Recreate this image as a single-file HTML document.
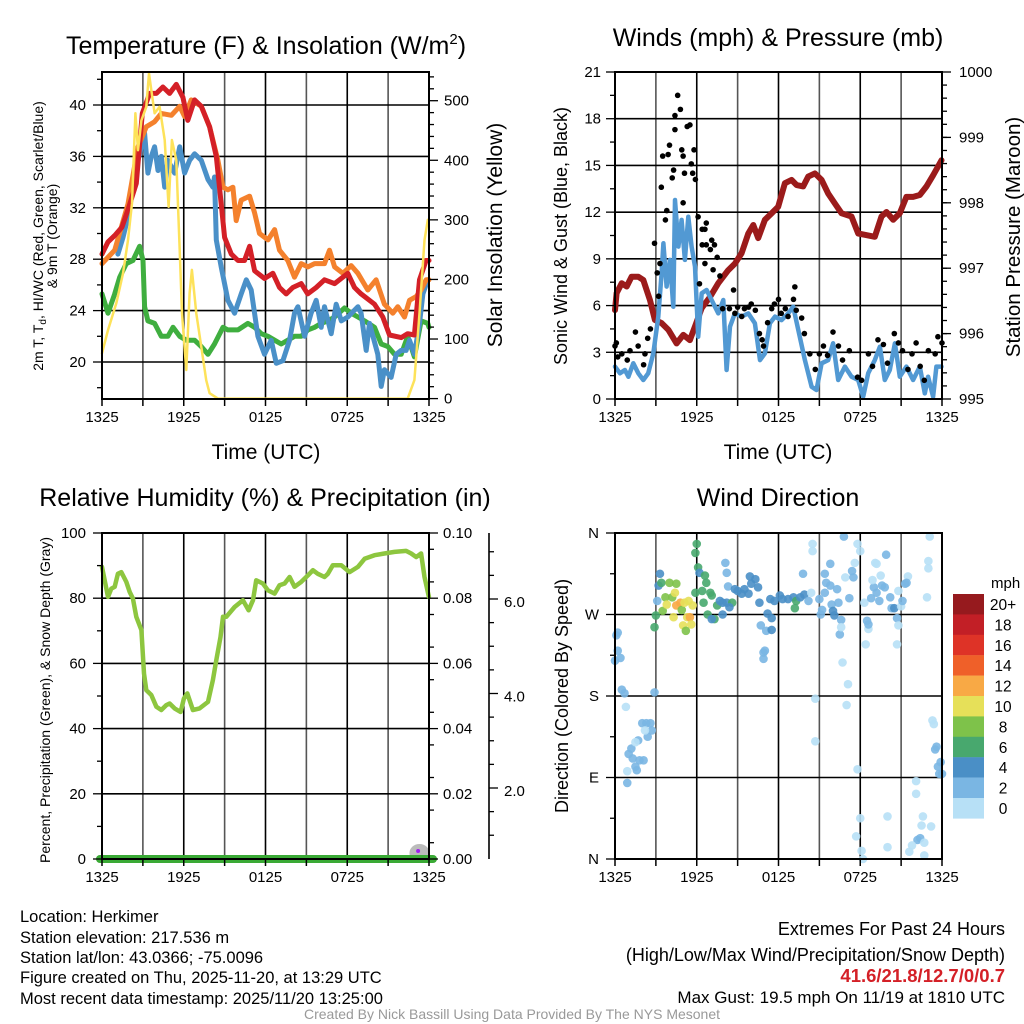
<!DOCTYPE html>
<html><head><meta charset="utf-8">
<style>
body{margin:0;background:#fff;font-family:"Liberation Sans",sans-serif;}
svg{display:block}
text{font-family:"Liberation Sans",sans-serif;fill:#000}
</style></head>
<body>
<svg id="s" width="1024" height="1024" viewBox="0 0 1024 1024">
<g id="grid"></g>
<g id="marks"></g>
<g id="frames"></g>
<!-- titles -->
<text x="266" y="54" font-size="25" text-anchor="middle">Temperature (F) &amp; Insolation (W/m<tspan dy="-10" font-size="15">2</tspan><tspan dy="10">)</tspan></text>
<text x="778" y="46" font-size="25" text-anchor="middle">Winds (mph) &amp; Pressure (mb)</text>
<text x="265" y="506" font-size="25" text-anchor="middle">Relative Humidity (%) &amp; Precipitation (in)</text>
<text x="778" y="506" font-size="25" text-anchor="middle">Wind Direction</text>
<text x="266" y="459" font-size="21" text-anchor="middle">Time (UTC)</text>
<text x="778" y="459" font-size="21" text-anchor="middle">Time (UTC)</text>
<text transform="translate(43,236) rotate(-90)" font-size="14" text-anchor="middle">2m T, T<tspan dy="3" font-size="10">d</tspan><tspan dy="-3">, HI/WC (Red, Green, Scarlet/Blue)</tspan></text>
<text transform="translate(57,236) rotate(-90)" font-size="14" text-anchor="middle">&amp; 9m T (Orange)</text>
<text transform="translate(502,235) rotate(-90)" font-size="21" text-anchor="middle">Solar Insolation (Yellow)</text>
<text transform="translate(567,236) rotate(-90)" font-size="18" text-anchor="middle">Sonic Wind &amp; Gust (Blue, Black)</text>
<text transform="translate(1020,237) rotate(-90)" font-size="20.5" text-anchor="middle">Station Pressure (Maroon)</text>
<text transform="translate(50,700) rotate(-90)" font-size="14" text-anchor="middle">Percent, Precipitation (Green), &amp; Snow Depth (Gray)</text>
<text transform="translate(568,696) rotate(-90)" font-size="18" text-anchor="middle">Direction (Colored By Speed)</text>
<!-- info -->
<g font-size="16.5">
<text x="20" y="922">Location: Herkimer</text>
<text x="20" y="943">Station elevation: 217.536 m</text>
<text x="20" y="963">Station lat/lon: 43.0366; -75.0096</text>
<text x="20" y="983">Figure created on Thu, 2025-11-20, at 13:29 UTC</text>
<text x="20" y="1004">Most recent data timestamp: 2025/11/20 13:25:00</text>
</g>
<g font-size="18" text-anchor="end">
<text x="1005" y="935">Extremes For Past 24 Hours</text>
<text x="1005" y="961">(High/Low/Max Wind/Precipitation/Snow Depth)</text>
<text x="1005" y="982" font-weight="bold" font-size="18.5" style="fill:#d42027">41.6/21.8/12.7/0/0.7</text>
<text x="1005" y="1003" font-size="17">Max Gust: 19.5 mph On 11/19 at 1810 UTC</text>
</g>
<text x="512" y="1019" font-size="14" text-anchor="middle" style="fill:#999">Created By Nick Bassill Using Data Provided By The NYS Mesonet</text>
<g id="cbar"></g>
</svg>
<script>
// ---------- data ----------
const xTickLabels=["1325","1925","0125","0725","1325"];
const tempHours=[0,0.44,0.98,1.47,1.98,2.52,2.96,3.5,3.99,4.47,4.96,5.45,5.94,6.3,6.8,7.29,7.9,8.39,8.75,9.0,9.49,9.98,10.46,10.83,11.2,11.93,12.54,13.03,13.52,14.0,14.62,15.1,15.72,16.33,17.07,18.04,18.53,19.02,20.0,20.61,21.1,21.96,22.44,22.93,23.3,23.79,24];
const tempValues=[28.4,29.35,29.9,30.5,32.1,33.9,39.35,40.9,40.9,41.4,40.9,41.6,40.6,38.8,40.4,39.9,38.3,36.0,32.3,29.7,28.4,27.9,27.9,29.0,27.1,26.5,26.9,25.8,25.3,25.8,26.1,25.3,25.8,26.4,26.1,26.9,25.8,25.3,24.5,23.5,22.1,21.9,22.2,22.1,26.4,27.9,27.9];
const t9Hours=[0,0.93,1.91,2.64,3.25,3.86,4.35,5.09,5.7,6.06,6.55,7.29,7.9,8.51,8.88,9.24,9.61,9.85,10.22,10.83,11.2,11.56,12.18,12.67,13.03,13.64,14.13,14.62,15.11,15.6,16.33,16.7,17.07,17.68,18.29,18.78,19.51,20.12,20.73,21.34,21.71,22.2,22.57,23.06,23.42,23.79,24];
const t9Values=[27.66,28.7,32.3,36.75,38.3,38.7,39.35,39.2,39.9,39.1,40.4,39.9,38.3,35.7,33.6,33.4,33.6,31.0,32.6,32.9,31.6,30.0,29.5,30.3,28.7,27.9,26.6,27.66,27.4,27.66,27.66,28.7,27.4,26.9,27.5,26.9,25.6,26.4,24.5,23.8,24.3,23.5,24.8,25.1,25.6,26.4,26.4];
const hiHours=[1.17,1.54,1.91,2.64,3.01,3.13,3.37,3.62,3.86,4.11,4.35,4.6,4.84,5.33,5.7,6.06,6.43,6.8,7.29,7.78,8.14,8.26,8.39,8.75,9.24,9.73,10.22,10.59,10.95,11.44,11.93,12.42,12.79,13.28,13.77,14.13,14.38,14.87,15.35,15.72,16.09,16.33,16.82,17.19,17.56,18.04,18.78,19.02,19.39,19.63,20.24,20.49,20.73,21.22,21.59,21.96,22.32,22.57,22.93,23.3,23.55,23.91];
const hiValues=[28.4,29.7,31.3,35.7,37.3,37.8,34.7,36.0,36.75,34.9,36.0,33.6,35.7,34.7,36.75,34.7,35.7,36.2,35.7,34.2,33.6,34.4,29.5,27.4,24.8,23.8,25.3,26.4,25.6,22.0,20.6,21.7,19.9,20.1,21.7,23.8,24.3,22.0,23.8,24.8,22.7,24.3,22.2,24.5,23.2,23.5,24.3,23.8,20.9,23.0,20.6,18.1,19.4,18.8,20.6,20.9,20.9,21.7,20.6,23.0,25.3,26.4];
const tdHours=[0,0.44,0.93,1.3,1.78,2.27,2.76,3.01,3.13,3.37,3.86,4.35,4.84,5.21,5.7,6.19,6.8,7.29,7.78,8.26,8.88,9.24,9.98,10.71,11.2,11.69,12.18,12.67,13.15,13.64,14.13,14.62,15.11,15.6,16.09,16.58,17.07,17.8,18.29,18.78,19.27,20.0,20.49,20.98,21.47,21.96,22.44,22.93,23.42,23.91,24];
const tdValues=[25.3,23.8,25.3,26.6,27.66,27.9,29.0,27.9,24.3,23.2,23.0,22.0,22.0,22.7,22.0,21.7,21.7,21.2,20.6,21.4,22.7,22.5,22.5,23.0,22.7,22.2,22.0,21.7,21.4,21.7,22.0,22.0,22.5,22.7,23.0,23.2,23.5,24.2,23.8,23.5,23.2,22.7,21.4,21.2,20.6,20.6,22.0,20.4,23.2,23.0,22.7];
const solarHours=[0,0.44,1.05,1.54,1.91,2.2,2.45,2.64,2.89,3.25,3.45,3.62,3.86,4.23,4.6,4.89,5.13,5.45,5.7,5.87,6.19,6.43,6.6,6.92,7.29,7.65,7.9,8.51,22.44,22.93,23.3,23.67,23.91];
const solarValues=[76,115,160,210,266,328,479,417,467,490,546,518,479,490,434,322,434,400,249,143,48,177,216,143,87,31,9,0,0,31,143,266,300];
const presHours=[0,0.12,0.49,0.86,1.22,1.71,2.08,2.57,2.93,3.42,3.91,4.52,5.01,5.5,5.87,6.36,6.97,7.58,8.31,8.8,9.29,9.78,10.15,10.51,11.0,11.49,11.98,12.47,12.96,13.33,13.81,14.18,14.67,15.16,15.65,16.14,16.63,17.36,17.85,18.34,19.07,19.56,19.93,20.42,20.9,21.39,21.88,22.37,22.86,23.35,23.96];
const presValues=[996.36,996.62,996.77,996.72,996.87,996.87,996.82,996.51,996.21,996.16,996.06,995.85,995.98,995.9,996.11,996.39,996.56,996.77,996.97,997.07,997.23,997.53,997.66,997.46,997.74,997.84,997.94,998.3,998.35,998.27,998.25,998.4,998.45,998.35,998.14,997.99,997.84,997.79,997.53,997.51,997.48,997.79,997.86,997.74,997.84,998.09,998.09,998.12,998.25,998.42,998.65];
const windHours=[0,.37,.73,.98,1.34,1.71,2.08,2.44,2.81,3.18,3.42,3.55,3.79,4.03,4.28,4.4,4.65,4.89,5.13,5.38,5.62,5.87,6.11,6.36,6.72,7.09,7.58,7.95,8.19,8.44,8.8,9.29,9.78,10.27,10.64,11.0,11.37,11.74,12.22,12.71,13.08,13.45,13.94,14.43,14.79,15.16,15.65,16.01,16.38,16.87,17.36,17.85,18.22,18.58,19.07,19.44,19.8,20.17,20.54,20.9,21.39,21.88,22.37,22.74,22.98,23.35,23.59,23.96];
const windValues=[2.08,1.65,1.86,1.43,2.29,1.65,1.22,1.65,2.93,5.29,8.07,10.0,7.22,8.93,5.93,12.78,9.79,11.5,8.93,11.71,9.79,8.5,4.0,6.79,7.0,6.36,5.5,6.36,1.86,4.65,5.5,5.29,5.5,4.86,2.5,2.93,4.86,5.29,5.07,5.5,5.93,4.43,2.5,0.79,0.58,2.29,2.5,3.58,1.22,2.08,1.43,1.22,0.15,1.65,2.5,3.36,1.22,1.86,3.58,1.43,2.08,1.22,2.08,0.36,1.43,0.15,2.08,2.08];
const gustHours=[0,.1,.2,.5,.9,1.1,1.5,1.7,2.1,2.2,2.4,2.6,2.9,3.1,3.2,3.3,3.4,3.5,3.7,3.8,3.9,4.0,4.2,4.3,4.4,4.4,4.6,4.8,4.9,5.0,5.0,5.1,5.3,5.5,5.6,5.7,5.8,5.9,6.1,6.2,6.4,6.6,6.7,6.4,6.7,7.0,7.1,7.3,7.5,6.6,7.2,7.7,8.7,7.9,8.4,8.8,9.0,9.3,9.5,9.8,10.0,10.3,10.6,10.8,10.9,11.2,11.5,11.7,12.0,12.2,12.5,12.7,13.1,13.2,13.3,13.7,13.9,14.3,14.7,15.0,15.3,15.6,16.0,16.4,16.7,17.2,17.8,18.1,18.6,18.9,19.3,19.7,20.0,20.5,20.8,21.1,21.5,21.8,22.1,22.4,22.7,23.0,23.5,23.7,24.0];
const gustValues=[3.4,3.6,2.7,2.9,2.5,3.1,4.3,3.4,2.2,2.9,3.9,4.5,10.0,8.1,6.6,8.7,13.6,15.6,11.5,12.1,15.7,16.3,14.2,14.7,17.3,18.2,19.5,18.6,16.0,12.6,15.6,14.5,17.5,17.6,15.1,14.5,16.0,14.1,11.7,7.4,10.9,10.9,11.3,9.9,9.9,9.6,10.2,9.9,9.1,8.7,8.3,7.9,7.0,5.8,5.8,5.5,5.9,5.3,5.8,5.9,6.1,5.7,4.2,3.8,3.4,4.9,5.8,6.1,6.4,5.5,5.8,5.3,6.4,7.2,5.7,5.2,4.2,2.9,1.9,2.9,3.4,2.8,4.3,3.4,2.5,3.1,1.4,1.2,2.9,2.1,3.8,3.5,2.3,4.2,3.6,3.1,1.9,2.9,3.6,2.1,1.2,3.1,2.9,4.0,3.6];
const rhHours=[0,.2,.44,.68,.93,1.17,1.42,1.78,2.03,2.27,2.52,2.89,3.08,3.25,3.62,3.99,4.35,4.72,4.96,5.33,5.77,6.01,6.26,6.67,7.16,7.78,8.14,8.39,8.7,8.88,9.12,9.73,10.34,10.76,11.08,11.32,11.81,12.18,12.67,13.03,13.4,13.77,14.13,14.62,15.11,15.48,15.84,16.33,16.58,16.94,17.56,18.17,18.78,19.27,20.0,20.73,21.47,22.32,22.69,23.06,23.42,23.67,23.99];
const rhValues=[89.6,85.5,80.4,82.9,83.5,87.5,88.0,85.0,81.9,79.9,74.3,70.2,56.9,51.8,50.3,46.7,45.7,47.2,47.7,46.2,45.1,49.2,50.8,45.7,46.2,48.2,54.9,61.0,68.1,74.3,74.3,77.3,79.4,76.3,79.4,85.5,84.5,82.4,81.4,84.0,84.5,86.5,83.5,85.0,87.0,88.6,87.5,86.5,87.5,90.1,90.1,88.0,89.6,92.1,93.2,93.7,94.2,94.5,93.7,92.6,93.7,86.5,80.4];
const precipHours=[0,24];
const precipValues=[0,0];
const dirHours=[.2,.1,0,.2,.4,.5,.7,.8,.9,1.0,
1.2,1.3,1.6,1.5,1.8,1.7,2.1,2.0,2.3,2.6,
2.4,2.7,2.2,.9,1.5,2.9,2.9,3.0,3.1,3.2,
3.3,3.4,3.5,3.7,3.8,4.0,4.2,4.4,4.5,4.3,
4.5,4.8,4.9,5.1,5.3,5.5,5.0,5.6,5.4,5.2,
5.7,5.9,6.0,5.9,6.1,6.2,6.6,6.7,6.4,6.5,
7.0,7.1,7.5,6.8,7.3,7.1,7.7,7.9,8.2,8.6,
8.4,7.9,8.1,8.2,8.3,8.8,9.0,9.3,9.5,9.9,
10.3,10.0,10.5,9.8,10.6,11.2,11.5,10.7,11.1,11.5,
10.9,11.0,10.9,11.4,11.7,12.1,12.3,12.7,13.1,13.3,
13.2,13.6,13.9,13.8,14.2,14.4,14.5,14.5,15.0,15.2,
15.1,15.4,15.5,15.8,15.4,15.9,16.0,16.1,16.3,16.4,
15.8,16.6,16.5,16.6,16.7,16.9,17.1,16.8,17.0,14.7,
14.7,17.2,17.4,17.5,17.6,17.8,18.0,17.8,18.0,17.7,
18.1,18.2,18.3,18.5,18.6,18.4,18.6,18.8,19.0,18.9,
19.1,19.2,19.2,19.4,19.6,19.5,19.8,19.9,20.0,20.0,
20.2,20.3,20.5,20.7,20.8,20.7,21.0,21.1,20.8,21.3,
21.5,21.4,22.1,22.1,22.6,22.5,23.2,22.4,22.2,22.7,
21.8,21.6,22.7,23.1,23.0,23.0,22.9,23.3,23.4,23.5,
23.6,23.7,23.9,23.8,24.0];
const dirDegrees=[250,247,219,230,222,187,183,168,84,116,
122,111,98,102,109,131,109,150,150,150,
135,142,142,97,129,184,256,269,285,302,
315,305,274,289,281,305,289,294,304,267,
280,283,275,283,267,267,258,259,285,252,
280,294,348,338,322,316,313,305,296,283,
294,291,280,270,265,265,285,283,283,283,
278,270,327,316,301,298,296,293,298,312,
309,304,300,293,283,271,266,258,252,253,
228,230,221,287,285,291,287,287,289,285,
277,289,292,315,285,294,348,340,287,275,
270,315,305,302,294,281,274,269,298,283,
326,264,248,256,217,311,193,356,170,177,
130,288,318,311,327,348,340,99,45,25,
9,0,283,263,254,237,259,288,300,308,
327,326,294,285,302,313,300,336,47,13,
289,277,277,266,258,237,279,285,296,304,
312,305,86,72,47,37,36,23,21,18,
15,8,4,356,329,321,289,153,149,121,
124,102,107,94,94];
const dirSpeeds=[2.5,2.5,2.5,2.5,2.5,2.5,2.5,1,2.5,3,
2.5,2.5,2.5,2.5,2.5,2.5,2.5,2.5,2.5,2.5,
2.5,2.5,1,1,1,3,7,7,3,5,
5,7,8,8,10,8,8,10,8,10,
12,13,8,10,11,13,11,10,10,8,
11,7,7,7,7,5,7,7,7,7,
7,7,7,7,7,5,5,5,5,7,
5,5,3,3,3,5,5,5,5,5,
5,5,5,5,4,5,5,3,3,5,
3,3,3,5,5,5,5,5,5,7,
7,5,5,3,3,1,1,1,3,3,
3,3,3,3,3,3,5,5,3,3,
3,3,3,1,1,1,1,3,1,1,
1,3,3,3,1,1,1,1,1,1,
1,1,1,3,1,1,3,3,3,1,
1,1,3,3,3,1,3,3,1,1,
3,3,5,3,1,1,1,3,1,3,
1,3,1,1,1,1,1,2.5,3,1,
1,1,1,1,1,1,1,1,1,3,
3,3,3,3,3];
const speedBinLabels=["0","2","4","6","8","10","12","14","16","18","20+"];
const speedBinColors=["#b7e0f6","#7ab6e3","#4a8fc6","#48a86e","#7ec24a","#e6e059","#f8a945","#ef6029","#de3327","#c21f26","#961a1e"];
const tempTicks=[20,24,28,32,36,40];
const solarTicks=[0,100,200,300,400,500];
const windTicks=[0,3,6,9,12,15,18,21];
const presTicks=[995,996,997,998,999,1000];
const rhTicks=[0,20,40,60,80,100];
const precipTickLabels=["0.00","0.02","0.04","0.06","0.08","0.10"];
const snowTicks=[2,4,6];
const dirTickLabels=["N","E","S","W","N"];

// ---------- helpers ----------
const NS="http://www.w3.org/2000/svg";
const G=document.getElementById('grid'),M=document.getElementById('marks'),F=document.getElementById('frames');
function mk(tag,parent,attrs){const e=document.createElementNS(NS,tag);for(const k in attrs)e.setAttribute(k,attrs[k]);parent.appendChild(e);return e;}
function lin(d0,d1,r0,r1){return v=>r0+(v-d0)/(d1-d0)*(r1-r0);}
const P1={x0:102,x1:429,y0:72,y1:399},P2={x0:615,x1:942,y0:72,y1:399},P3={x0:102,x1:429,y0:533,y1:859},P4={x0:615,x1:942,y0:533,y1:859};
const x1=lin(0,24,P1.x0,P1.x1),x2=lin(0,24,P2.x0,P2.x1),x3=lin(0,24,P3.x0,P3.x1),x4=lin(0,24,P4.x0,P4.x1);
const yT=lin(20,40,362,105),yS=lin(0,500,398.6,100.7);
const yW=lin(0,21,399,72),yP=lin(995,1000,399,72);
const yR=lin(0,100,859,533),yPr=lin(0,0.1,859,533),ySn=lin(2,6,788,599);
const yD=lin(0,360,859,533);

function vgrid(P,xs){for(let h=0;h<=24;h+=3){const l=mk('line',G,{x1:xs(h),x2:xs(h),y1:P.y0,y2:P.y1,stroke:h%6==0?'#000':'#555','stroke-width':1.6});


mk('line',F,{x1:xs(h),x2:xs(h),y1:P.y1,y2:P.y1+7,stroke:'#000','stroke-width':1.5});}
xTickLabels.forEach((s,i)=>{const t=mk('text',F,{x:xs(i*6),y:P.y1+23,'font-size':15,'text-anchor':'middle'});t.textContent=s;

});}
function hline(P,y){const l=mk('line',G,{x1:P.x0,x2:P.x1,y1:y,y2:y,stroke:'#000','stroke-width':1.6});

}
function tick(x,y,len,dir){mk('line',F,{x1:x,x2:x+len*dir,y1:y,y2:y,stroke:'#000','stroke-width':1.3});}
function label(x,y,s,anchor,size){const t=mk('text',F,{x:x,y:y+5,'font-size':size||15,'text-anchor':anchor});t.textContent=s;

return t;}
function frame(P,name){const r=mk('rect',F,{x:P.x0,y:P.y0,width:P.x1-P.x0,height:P.y1-P.y0,fill:'none',stroke:'#000','stroke-width':2});

}
function line(hs,vs,xs,ys,color,w,name){const d=hs.map((h,i)=>(i?'L':'M')+xs(h).toFixed(1)+','+ys(vs[i]).toFixed(1)).join('');
const p=mk('path',M,{d:d,fill:'none',stroke:color,'stroke-width':w,'stroke-linejoin':'round','stroke-linecap':'round'});

return p;}

// ---------- panel 1 ----------
vgrid(P1,x1);
tempTicks.forEach(v=>{hline(P1,yT(v));tick(P1.x0,yT(v),-9,1);label(P1.x0-16,yT(v),String(v),'end');});
for(let v=18;v<=42;v+=4)tick(P1.x0,yT(v),-5,1);
solarTicks.forEach(v=>{tick(P1.x1,yS(v),9,1);label(P1.x1+15,yS(v),String(v),'start');});
for(let v=20;v<=540;v+=20)if(v%100)tick(P1.x1,yS(v),5,1);
line(tdHours,tdValues,x1,yT,'#3fae3f',5,'dewpoint-line');
line(hiHours,hiValues,x1,yT,'#4a90c8',5,'heat-index-windchill-line');
line(t9Hours,t9Values,x1,yT,'#f4812d',5,'temp-9m-line');
line(tempHours,tempValues,x1,yT,'#d42027',5,'temp-2m-line');
line(solarHours,solarValues,x1,yS,'#fde25a',2.5,'solar-insolation-line');
frame(P1,'temp-plot-frame');

// ---------- panel 2 ----------
vgrid(P2,x2);
windTicks.forEach(v=>{hline(P2,yW(v));tick(P2.x0,yW(v),-9,1);label(P2.x0-14,yW(v),String(v),'end');});
for(let v=1.5;v<21;v+=3)tick(P2.x0,yW(v),-5,1);
presTicks.forEach(v=>{tick(P2.x1,yP(v),9,1);label(P2.x1+17,yP(v),String(v),'start');});
for(let v=995.2;v<1000;v+=0.2)tick(P2.x1,yP(v),5,1);
line(presHours,presValues,x2,yP,'#9b1b1b',6,'pressure-line');
line(windHours,windValues,x2,yW,'#5299d3',4.5,'sonic-wind-line');
gustHours.forEach((h,i)=>{const c=mk('circle',M,{cx:x2(h),cy:yW(gustValues[i]),r:2.8,fill:'#000'});

});
frame(P2,'wind-plot-frame');

// ---------- panel 3 ----------
vgrid(P3,x3);
rhTicks.forEach((v,i)=>{hline(P3,yR(v));tick(P3.x0,yR(v),-9,1);label(P3.x0-16,yR(v),String(v),'end');
tick(P3.x1,yR(v),9,1);label(P3.x1+14,yR(v),precipTickLabels[i],'start');});
for(let v=10;v<100;v+=20)tick(P3.x0,yR(v),-5,1);
for(let v=5;v<100;v+=10)tick(P3.x1,yR(v),5,1);
const sa=mk('line',F,{x1:489,x2:489,y1:P3.y0,y2:P3.y1,stroke:'#000','stroke-width':1.6});


for(let v=-1.5;v<=7;v+=0.5){const y=ySn(v);if(y>=P3.y0+3&&y<=P3.y1-3)tick(489,y,Number.isInteger(v)&&v%2==0?9:5,1);}
snowTicks.forEach(v=>label(504,ySn(v)+3,v.toFixed(1),'start'));
const blob=mk('ellipse',M,{cx:x3(23.3),cy:yR(0)-6,rx:10,ry:9,fill:'#bbb'});


line(precipHours,precipValues,x3,yPr,'#3aaa35',8,'precipitation-line').setAttribute('d','M'+(x3(precipHours[0])-2)+','+yPr(precipValues[0])+'L'+(x3(precipHours[1])+4)+','+yPr(precipValues[1]));
const pd=mk('circle',M,{cx:x3(23.2),cy:yR(0)-8,r:2,fill:'#a020f0'});


line(rhHours,rhValues,x3,yR,'#8dc63f',4.5,'relative-humidity-line');
frame(P3,'rh-plot-frame');

// ---------- panel 4 ----------
vgrid(P4,x4);
dirTickLabels.forEach((s,i)=>{hline(P4,yD(i*90));tick(P4.x0,yD(i*90),-9,1);label(P4.x0-16,yD(i*90),s,'end');});
for(let v=45;v<360;v+=90)tick(P4.x0,yD(v),-5,1);
dirHours.forEach((h,i)=>{const b=Math.min(10,Math.floor((dirSpeeds[i]||0)/2));
const c=mk('circle',M,{cx:x4(h),cy:yD(dirDegrees[i]),r:4.3,fill:speedBinColors[b],'fill-opacity':0.9});

});
frame(P4,'direction-plot-frame');

// colorbar
const CB=document.getElementById('cbar');
const mt=mk('text',CB,{x:991,y:588,'font-size':15});mt.textContent='mph';


speedBinColors.forEach((c,i)=>{const k=10-i;const y=594+i*20.4;
const r=mk('rect',CB,{x:953,y:y,width:31,height:20.6,fill:speedBinColors[k]});


const t=mk('text',CB,{x:1003,y:y+16,'font-size':15.5,'text-anchor':'middle'});t.textContent=speedBinLabels[k];

});
</script>
</body></html>
